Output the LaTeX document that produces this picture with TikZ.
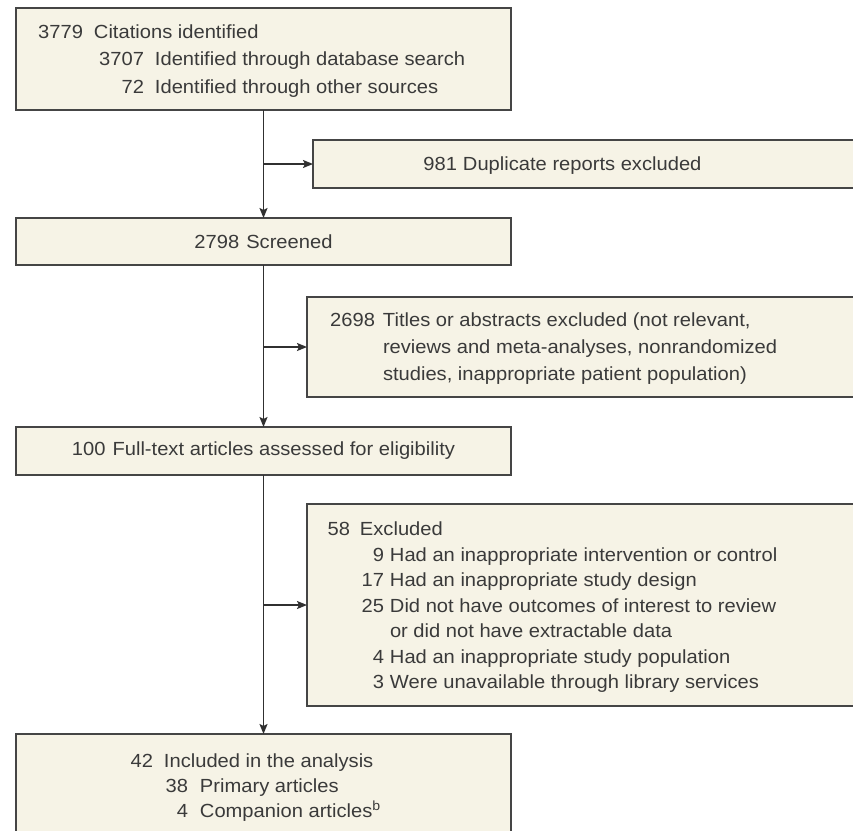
\documentclass[tikz,border=0pt]{standalone}
\usepackage{fontspec}
\setmainfont{Liberation Sans}[FakeStretch=1.06]
\usetikzlibrary{arrows.meta}
\definecolor{boxfill}{HTML}{F6F3E6}
\definecolor{boxline}{HTML}{454545}
\definecolor{txtcol}{HTML}{3A3A3A}
\definecolor{arrcol}{HTML}{303030}
\newcommand{\nbox}[2]{\makebox[#1pt][r]{#2}}
\begin{document}
\begin{tikzpicture}[x=1pt,y=-1pt,
  box/.style={draw=boxline, fill=boxfill, line width=1.9pt, inner sep=0pt, outer sep=0pt},
  txtnode/.style={anchor=base west, inner sep=0pt, outer sep=0pt, text=txtcol, font=\fontsize{19}{27}\selectfont},
  ctxt/.style={inner sep=0pt, outer sep=0pt, text=txtcol, font=\fontsize{19}{27}\selectfont},
  flow/.style={draw=arrcol, line width=1.6pt, -{Stealth[length=10pt,width=8pt,inset=2pt]}}]
\useasboundingbox (0,0) rectangle (853,830);
\fill[white] (0,0) rectangle (853,830);
% boxes
\node[box, minimum width=495pt, minimum height=102pt] (A) at (263.5,59) {};
\node[box, minimum width=547pt, minimum height=48pt] (B) at (586.5,164) {};
\node[box, minimum width=495pt, minimum height=47pt] (C) at (263.5,241.5) {};
\node[box, minimum width=553pt, minimum height=100pt] (D) at (583.5,347) {};
\node[box, minimum width=495pt, minimum height=48pt] (E) at (263.5,451) {};
\node[box, minimum width=553pt, minimum height=202pt] (F) at (583.5,605) {};
\node[box, minimum width=495pt, minimum height=112pt] (G) at (263.5,790) {};
% texts
\node[txtnode] (tA) at (33,38) {\vtop{\baselineskip=27.5pt\lineskiplimit=-100pt
  \hbox{\nbox{50}{3779}\hspace{11pt}Citations identified}
  \hbox{\nbox{111}{3707}\hspace{11pt}Identified through database search}
  \hbox{\nbox{111}{72}\hspace{11pt}Identified through other sources}}};
\node[txtnode] (tB) at (424,170) {\nbox{33}{981}\hspace{6pt}Duplicate reports excluded};
\node[ctxt] (tC) at (C.center) {2798\hspace{7pt}Screened};
\node[txtnode] (tD) at (331,326.5) {\vtop{\baselineskip=27pt\lineskiplimit=-100pt
  \hbox{\nbox{44}{2698}\hspace{8pt}Titles or abstracts excluded (not relevant,}
  \hbox{\hspace*{52pt}reviews and meta-analyses, nonrandomized}
  \hbox{\hspace*{52pt}studies, inappropriate patient population)}}};
\node[ctxt] (tE) at (E.center) {100\hspace{7pt}Full-text articles assessed for eligibility};
\node[txtnode] (tF) at (329,535.5) {\vtop{\baselineskip=25.5pt\lineskiplimit=-100pt
  \hbox{\nbox{21}{58}\hspace{10pt}Excluded}
  \hbox{\nbox{55}{9}\hspace{6pt}Had an inappropriate intervention or control}
  \hbox{\nbox{55}{17}\hspace{6pt}Had an inappropriate study design}
  \hbox{\nbox{55}{25}\hspace{6pt}Did not have outcomes of interest to review}
  \hbox{\hspace*{61pt}or did not have extractable data}
  \hbox{\nbox{55}{4}\hspace{6pt}Had an inappropriate study population}
  \hbox{\nbox{55}{3}\hspace{6pt}Were unavailable through library services}}};
\node[txtnode] (tG) at (128,767) {\vtop{\baselineskip=25pt\lineskiplimit=-100pt
  \hbox{\nbox{25}{42}\hspace{11pt}Included in the analysis}
  \hbox{\nbox{60}{38}\hspace{12pt}Primary articles}
  \hbox{\nbox{60}{4}\hspace{12pt}Companion articles\textsuperscript{b}}}};
% connectors
\draw[flow] (A.south) -- (C.north);
\draw[flow] (A.south |- B.west) -- (B.west);
\draw[flow] (C.south) -- (E.north);
\draw[flow] (C.south |- D.west) -- (D.west);
\draw[flow] (E.south) -- (G.north);
\draw[flow] (E.south |- F.west) -- (F.west);
\end{tikzpicture}
\end{document}
